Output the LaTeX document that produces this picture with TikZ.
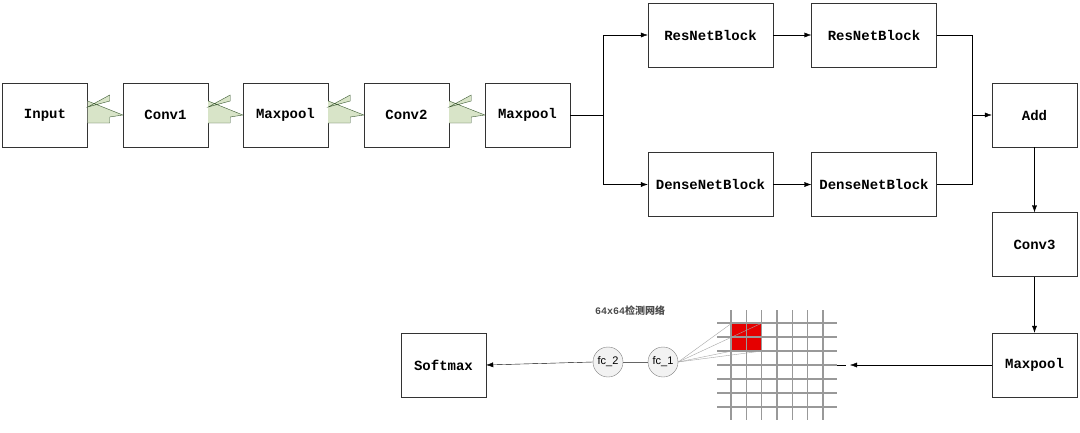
\documentclass[tikz,border=0pt]{standalone}
\usepackage{fontspec}
\setmainfont{Liberation Mono}
\newfontfamily\cjk{Noto Sans CJK SC}
\newfontfamily\sans{Liberation Sans}
\usetikzlibrary{arrows.meta}
\begin{document}
\begin{tikzpicture}[x=1pt,y=-1pt,
 box/.style={draw=black!80,fill=white,minimum width=85pt,minimum height=64pt,font=\fontsize{14}{14}\selectfont\bfseries,inner sep=0pt},
 wbox/.style={box,minimum width=125pt},
 fat/.style={draw={rgb,255:red,60;green,90;blue,50},fill={rgb,255:red,216;green,228;blue,200},line join=miter},
 ar/.style={-{Latex[length=7pt,width=5pt]},thin},
 fc/.style={circle,draw=black!50,fill=black!5,minimum size=30pt,inner sep=0pt,font=\sans\fontsize{11}{11}\selectfont}]
\useasboundingbox[fill=white] (0,0) rectangle (1080,432);
\node[box] (in) at (45,115) {Input};
\node[box] (c1) at (165.5,115) {Conv1};
\node[box] (m1) at (285.5,115) {Maxpool};
\node[box] (c2) at (406.5,115) {Conv2};
\node[box] (m2) at (527.5,115) {Maxpool};
\foreach \a/\b in {in/c1,c1/m1,m1/c2,c2/m2}
  \draw[fat] ([yshift=-8pt]\a.east) -- ++(22,0) -- ++(0,-6) -- (\b.west) -- ([yshift=14pt]\b.west -| \a.east) ++(22,0) -- ++(0,-6) -- ([yshift=8pt]\a.east) -- cycle;
\node[wbox] (r1) at (710.5,35) {ResNetBlock};
\node[wbox] (r2) at (874,35) {ResNetBlock};
\node[wbox] (d1) at (710.5,184.5) {DenseNetBlock};
\node[wbox] (d2) at (874,184.5) {DenseNetBlock};
\node[box] (add) at (1034.5,115) {Add};
\node[box] (c3) at (1034.5,244.5) {Conv3};
\node[box] (m3) at (1034.5,365) {Maxpool};
\node[box] (sm) at (443.5,365) {Softmax};
\coordinate (s) at (603,115);
\draw (m2.east) -- (s);
\draw[ar] (s) |- (r1.west);
\draw[ar] (s) |- (d1.west);
\draw[ar] (r1) -- (r2);
\draw[ar] (d1) -- (d2);
\coordinate (j) at (972,115);
\draw (r2.east) -| (j);
\draw (d2.east) -| (j);
\draw[ar] (j) -- (add.west);
\draw[ar] (add) -- (c3);
\draw[ar] (c3) -- (m3);
% grid
\fill[red!90!black] (732,323) rectangle (762,351);
\foreach \x in {731,746.3,761.7,777,792.3,807.7,823} \draw[black!40,line width=1.2pt] (\x,310) -- (\x,420);
\foreach \y in {323,337,351,365,379,393,407} \draw[black!40,line width=1.2pt] (717,\y) -- (837,\y);
\node[fc] (f1) at (663,362) {fc\_1};
\node[fc] (f2) at (608,362) {fc\_2};
\foreach \p in {(732,323),(762,323),(732,351),(762,351)} \draw[black!35] (f1.east) -- \p;
\draw[black!60,line width=1pt] (f2) -- (f1);
\draw[ar] (f2.west) -- (sm.east);
\coordinate (g) at (850,365);
\draw[ar] (m3.west) -- (g);
\draw (837,365) -- (846,365);
\node[font=\fontsize{10}{10}\selectfont\bfseries,text=black!70] (t) at (630,311) {64x64{\cjk 检测网络}};
\end{tikzpicture}
\end{document}
